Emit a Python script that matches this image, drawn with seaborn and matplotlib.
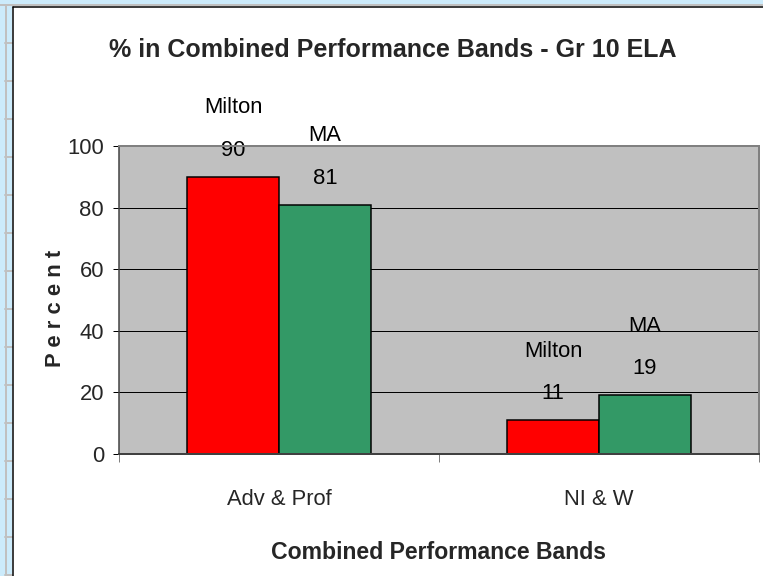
import matplotlib
matplotlib.use("Agg")
import matplotlib.pyplot as plt
from matplotlib.lines import Line2D
from matplotlib.patches import Rectangle
import pandas as pd
import seaborn as sns

# Chart data
bands = ["Adv & Prof", "NI & W"]
groups = ["Milton", "MA"]
milton_pct = [90, 11]
ma_pct = [81, 19]
y_ticks = [0, 20, 40, 60, 80, 100]

df = pd.DataFrame({
    "band": bands * 2,
    "group": [groups[0]] * len(bands) + [groups[1]] * len(bands),
    "pct": milton_pct + ma_pct,
})

sns.set_theme(style="white")
plt.rcParams["font.family"] = ["Liberation Sans", "DejaVu Sans"]

W, H, DPI = 763, 576, 72
fig = plt.figure(figsize=(W / DPI, H / DPI), dpi=DPI)
fig.patch.set_facecolor("white")

# window frame: light blue strips with a ruler on the left
frame_blue = "#CCEBFB"
fig.add_artist(Rectangle((0, 0), 12 / W, 1, transform=fig.transFigure,
                         facecolor=frame_blue, edgecolor="none", zorder=0))
fig.add_artist(Rectangle((0, 1 - 6 / H), 1, 6 / H, transform=fig.transFigure,
                         facecolor=frame_blue, edgecolor="none", zorder=0))
fig.add_artist(Line2D([6 / W, 6 / W], [0, 1 - 5 / H], transform=fig.transFigure,
                      color="#C0C0C0", lw=2))
fig.add_artist(Line2D([0, 1], [1 - 5 / H, 1 - 5 / H], transform=fig.transFigure,
                      color="#C0C0C0", lw=2))
for ry in range(5, H, 38):
    fig.add_artist(Line2D([5 / W, 12 / W], [1 - (ry + 38) / H] * 2,
                          transform=fig.transFigure, color="#C0C0C0", lw=2))
fig.add_artist(Line2D([12.5 / W, 12.5 / W], [0, 1 - 6.5 / H], transform=fig.transFigure,
                      color="black", lw=1.5))
fig.add_artist(Line2D([12.5 / W, 1], [1 - 6.5 / H, 1 - 6.5 / H], transform=fig.transFigure,
                      color="black", lw=1.5))

# plot area
left, right, top, bottom = 119, 759, 146, 454
ax = fig.add_axes([left / W, (H - bottom) / H, (right - left) / W, (bottom - top) / H])
ax.set_facecolor("#C0C0C0")

sns.barplot(data=df, x="band", y="pct", hue="group", order=bands, hue_order=groups,
            palette={"Milton": "#FF0000", "MA": "#339966"}, width=0.575, gap=0,
            edgecolor="black", linewidth=1.5, saturation=1, legend=False, ax=ax, zorder=3)

ax.set_ylim(0, 100)
ax.set_xlim(-0.5, 1.5)
ax.set_yticks(y_ticks)
ax.set_yticklabels([str(v) for v in y_ticks], fontsize=22)
for v in y_ticks[1:-1]:
    ax.axhline(v, color="black", lw=1, zorder=1)

ax.tick_params(axis="y", which="major", direction="out", length=6, width=1,
               color="black", pad=9, left=True)
ax.tick_params(axis="x", which="major", length=0, pad=35, labelsize=22)
ax.set_xticks([-0.5, 0.5, 1.5], minor=True)
ax.tick_params(axis="x", which="minor", direction="out", length=8, width=1,
               color="#808080", bottom=True)

for side in ["top", "right"]:
    ax.spines[side].set_color("#808080")
    ax.spines[side].set_linewidth(2)
    ax.spines[side].set_visible(True)
ax.spines["left"].set_color("#404040")
ax.spines["left"].set_linewidth(1.5)
ax.spines["bottom"].set_color("#404040")
ax.spines["bottom"].set_linewidth(2)
for s in ax.spines.values():
    s.set_zorder(4)

# group name above value on each bar
for container, name in zip(ax.containers, groups):
    vals = [bar.get_height() for bar in container]
    ax.bar_label(container, labels=[f"{name}\n{v:g}" for v in vals],
                 padding=16, fontsize=22, linespacing=2.35, color="black")

ax.set_xlabel("Combined Performance Bands", fontsize=23, fontweight="bold", labelpad=31)
ax.set_ylabel("P e r c e n t", fontsize=22, fontweight="bold")
ax.yaxis.set_label_coords(-0.083, 0.474)

fig.text(393 / W, 1 - 50 / H, "% in Combined Performance Bands - Gr 10 ELA",
         fontsize=25, fontweight="bold", ha="center", va="center")

fig.savefig("out.png", dpi=DPI)
